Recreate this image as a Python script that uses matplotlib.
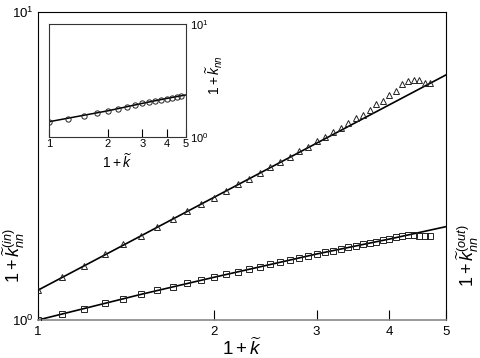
import numpy as np
import matplotlib
matplotlib.use('Agg')
import matplotlib.pyplot as plt
import matplotlib.ticker as ticker

plt.rcParams['font.family'] = ['Liberation Sans', 'DejaVu Sans']
plt.rcParams['mathtext.fontset'] = 'custom'
plt.rcParams['mathtext.rm'] = 'Liberation Sans'
plt.rcParams['mathtext.it'] = 'Liberation Sans:italic'

# main panel data (1 + k~ from 1.0 to 4.7)
k1 = [1.0, 1.1, 1.2, 1.3, 1.4, 1.5, 1.6, 1.7, 1.8, 1.9, 2.0, 2.1, 2.2, 2.3, 2.4,
      2.5, 2.6, 2.7, 2.8, 2.9, 3.0, 3.1, 3.2, 3.3, 3.4, 3.5, 3.6, 3.7, 3.8, 3.9,
      4.0, 4.1, 4.2, 4.3, 4.4, 4.5, 4.6, 4.7]
knn_in = [1.25, 1.376, 1.497, 1.634, 1.761, 1.878, 2.0, 2.123, 2.254, 2.38, 2.495,
          2.63, 2.76, 2.87, 3.008, 3.14, 3.266, 3.39, 3.54, 3.654, 3.81, 3.93,
          4.09, 4.2, 4.35, 4.52, 4.62, 4.80, 5.04, 5.15, 5.39, 5.54, 5.85, 5.98,
          6.02, 6.02, 5.90, 5.90]
knn_out = [1.0, 1.046, 1.088, 1.133, 1.173, 1.211, 1.248, 1.282, 1.321, 1.349,
           1.376, 1.407, 1.432, 1.461, 1.489, 1.523, 1.543, 1.566, 1.589, 1.613,
           1.638, 1.659, 1.679, 1.70, 1.722, 1.743, 1.761, 1.782, 1.796, 1.814,
           1.832, 1.855, 1.878, 1.884, 1.884, 1.878, 1.874, 1.874]

# fitted curves
fit_x = [1, 1.5, 2, 3, 4, 5]
fit_in = [1.25, 1.875, 2.5, 3.75, 5.0, 6.25]
fit_out = [1.0, 1.211, 1.376, 1.638, 1.832, 2.01]

# inset data
k2 = [1.0, 1.25, 1.5, 1.75, 2.0, 2.25, 2.5, 2.75, 3.0, 3.25, 3.5, 3.75, 4.0,
      4.25, 4.5, 4.75]
knn = [1.36, 1.43, 1.53, 1.615, 1.693, 1.764, 1.837, 1.914, 1.98, 2.02, 2.08,
       2.12, 2.165, 2.21, 2.255, 2.28]
fit2_x = [1, 2, 3, 4, 5]
fit2 = [1.36, 1.70, 1.98, 2.19, 2.35]

fig = plt.figure(figsize=(4.8, 3.58), dpi=100)
ax = fig.add_axes([0.0792, 0.1061, 0.85, 0.8603])

ax.plot(fit_x, fit_in, color='black', lw=1.2, zorder=2)
ax.plot(fit_x, fit_out, color='black', lw=1.2, zorder=2)
ax.plot(k1, knn_in, ls='none', marker='^', ms=4.6, mfc='none', mec='#222222', mew=0.7, zorder=3)
ax.plot(k1, knn_out, ls='none', marker='s', ms=4.3, mfc='none', mec='#222222', mew=0.7, zorder=3)

ax.set_xscale('log')
ax.set_yscale('log')
ax.set_xlim(1, 5)
ax.set_ylim(1, 10)
ax.xaxis.set_major_locator(ticker.FixedLocator([1, 2, 3, 4, 5]))
ax.xaxis.set_major_formatter(ticker.FixedFormatter(['1', '2', '3', '4', '5']))
ax.xaxis.set_minor_locator(ticker.NullLocator())
ax.yaxis.set_major_locator(ticker.FixedLocator([1, 10]))
ax.yaxis.set_minor_locator(ticker.NullLocator())
ax.tick_params(axis='x', direction='in', length=7, width=0.8, pad=4, labelsize=9.5)
ax.tick_params(axis='y', direction='in', length=0, pad=3, labelsize=9.5,
               left=True, right=True, labelleft=True, labelright=True)
ax.spines['bottom'].set_color('#888888')
ax.spines['bottom'].set_linewidth(1.2)

ax.set_xlabel(r'$1+\widetilde{k}$', fontsize=13.5)
ax.xaxis.set_label_coords(0.5, -0.058)
ax.set_ylabel(r'$1+\widetilde{k}_{nn}^{(in)}$', fontsize=13)
ax.yaxis.set_label_coords(-0.027, 0.21)
ax2y = ax.twinx()
ax2y.set_yscale('log')
ax2y.set_ylim(1, 10)
ax2y.set_yticks([])
ax2y.yaxis.set_minor_locator(ticker.NullLocator())
ax2y.set_ylabel(r'$1+\widetilde{k}_{nn}^{(out)}$', fontsize=13, rotation=90)
ax2y.yaxis.set_label_coords(1.021, 0.21)
for s in ax2y.spines.values():
    s.set_visible(False)

# inset
ins = fig.add_axes([0.1027, 0.6182, 0.2842, 0.314])
ins.plot(fit2_x, fit2, color='black', lw=1.1, zorder=2)
ins.plot(k2, knn, ls='none', marker='o', ms=3.8, mfc='none', mec='#222222', mew=0.7, zorder=3)
ins.set_xscale('log')
ins.set_yscale('log')
ins.set_xlim(1, 5)
ins.set_ylim(1, 10)
ins.xaxis.set_major_locator(ticker.FixedLocator([1, 2, 3, 4, 5]))
ins.xaxis.set_major_formatter(ticker.FixedFormatter(['1', '2', '3', '4', '5']))
ins.xaxis.set_minor_locator(ticker.NullLocator())
ins.yaxis.set_major_locator(ticker.FixedLocator([1, 10]))
ins.yaxis.set_minor_locator(ticker.NullLocator())
ins.tick_params(axis='x', direction='in', length=6, width=0.8, pad=2, labelsize=8)
ins.tick_params(axis='y', direction='in', length=0, pad=3, labelsize=8,
                left=False, right=True, labelleft=False, labelright=True)
ins.set_xlabel(r'$1+\widetilde{k}$', fontsize=10)
ins.xaxis.set_label_coords(0.5, -0.135)
ins.set_ylabel(r'$1+\widetilde{k}_{nn}$', fontsize=10)
ins.yaxis.set_label_position('right')
ins.yaxis.set_label_coords(1.13, 0.55)
for s in ins.spines.values():
    s.set_color('#333333')
    s.set_linewidth(0.8)

fig.savefig('out.png', dpi=100)
